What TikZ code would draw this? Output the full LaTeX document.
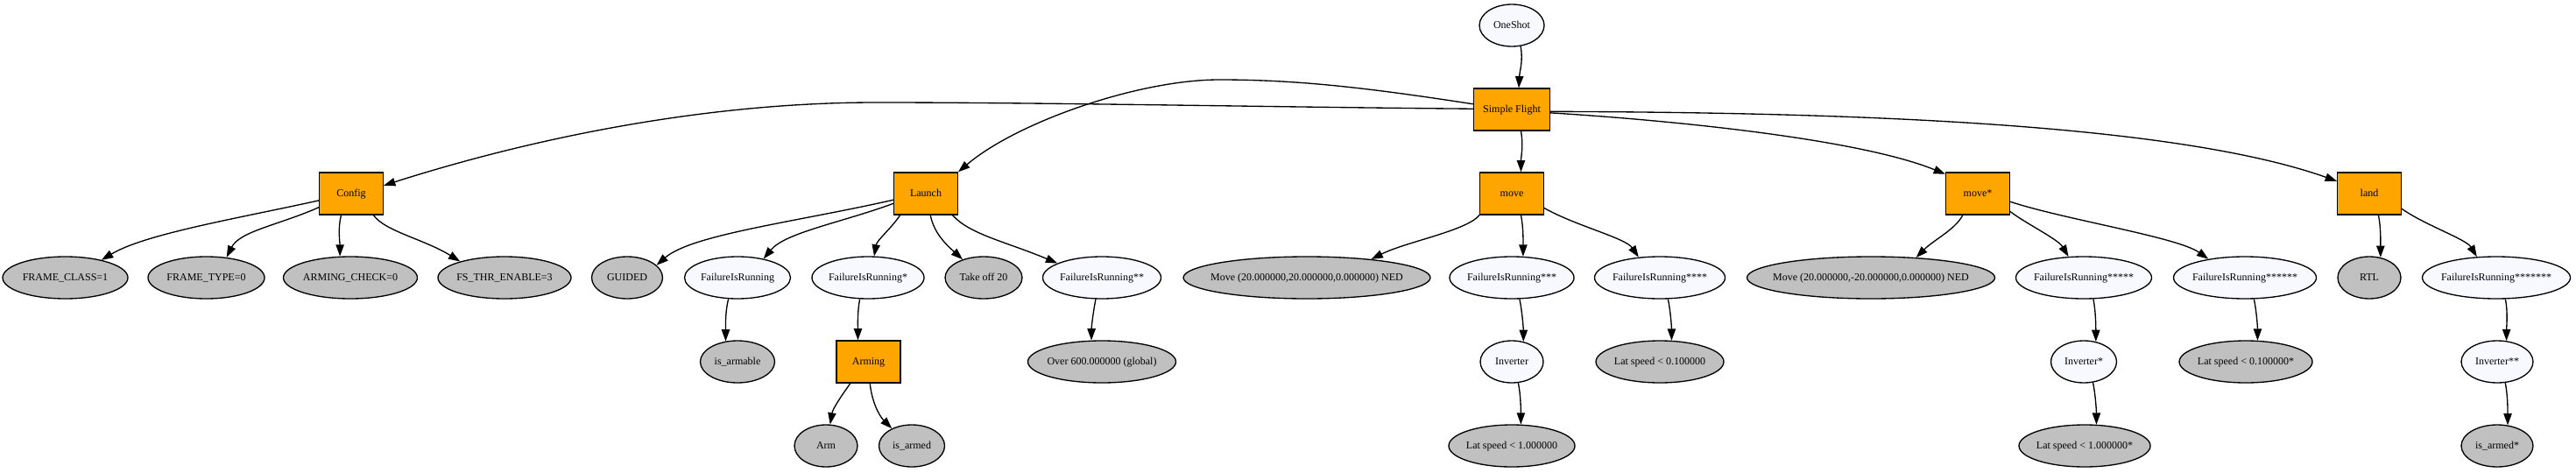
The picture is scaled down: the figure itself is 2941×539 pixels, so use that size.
\documentclass[tikz,border=0pt]{standalone}
\usepackage{fontspec}
\setmainfont{Liberation Serif}
\usetikzlibrary{shapes.geometric,arrows.meta}
\definecolor{gvorange}{HTML}{FFA500}
\definecolor{gvgray}{HTML}{C0C0C0}
\definecolor{gvwhite}{HTML}{F8F8FF}
\newcommand{\ztext}[1]{\makebox[0pt]{#1}}
\begin{document}
\begin{tikzpicture}[x=0.75pt,y=-0.75pt,
  base/.style={draw=black, line width=1pt, font=\fontsize{9pt}{11pt}\selectfont,
    text height=6.5pt, text depth=1.8pt, inner sep=0pt, minimum height=36pt},
  task/.style={base, rectangle, fill=gvorange, minimum width=54.5pt},
  cond/.style={base, ellipse, fill=gvwhite},
  act/.style={base, ellipse, fill=gvgray},
  edge/.style={draw=black, line width=1pt, -{Triangle[length=10pt,width=7pt]}}]
\useasboundingbox (0,0) rectangle (2941,539);
% row 0 / 1
\node[cond, minimum width=55.5pt] (OneShot) at (1726,29) {\ztext{OneShot}};
\node[task, minimum width=65.25pt] (SF) at (1726,125) {Simple Flight};
% row 2
\node[task] (Config) at (401,221) {Config};
\node[task] (Launch) at (1057,221) {Launch};
\node[task] (move) at (1726,221) {move};
\node[task] (moveA) at (2258,221) {move*};
\node[task] (land) at (2705,221) {land};
% row 3
\node[act, minimum width=107.25pt] (FC) at (74.5,317) {\ztext{FRAME\_CLASS=1}};
\node[act, minimum width=99.75pt] (FT) at (235.5,317) {\ztext{FRAME\_TYPE=0}};
\node[act, minimum width=114.75pt] (AC) at (400,317) {\ztext{ARMING\_CHECK=0}};
\node[act, minimum width=114pt] (FS) at (576,317) {\ztext{FS\_THR\_ENABLE=3}};
\node[act, minimum width=60.75pt] (GUIDED) at (716,317) {\ztext{GUIDED}};
\node[cond, minimum width=90.75pt] (F0) at (842,317) {\ztext{FailureIsRunning}};
\node[cond, minimum width=96pt] (F1) at (991,317) {\ztext{FailureIsRunning*}};
\node[act, minimum width=66pt] (TO) at (1123,317) {\ztext{Take off 20}};
\node[cond, minimum width=101.25pt] (F2) at (1258,317) {\ztext{FailureIsRunning**}};
\node[act, minimum width=211.5pt] (M1) at (1492,317) {\ztext{Move (20.000000,20.000000,0.000000) NED}};
\node[cond, minimum width=106.5pt] (F3) at (1726,317) {\ztext{FailureIsRunning***}};
\node[cond, minimum width=111.75pt] (F4) at (1895,317) {\ztext{FailureIsRunning****}};
\node[act, minimum width=212.25pt] (M2) at (2136,317) {\ztext{Move (20.000000,-20.000000,0.000000) NED}};
\node[cond, minimum width=116.25pt] (F5) at (2379,317) {\ztext{FailureIsRunning*****}};
\node[cond, minimum width=122.25pt] (F6) at (2563,317) {\ztext{FailureIsRunning******}};
\node[act, minimum width=54pt] (RTL) at (2705,317) {\ztext{RTL}};
\node[cond, minimum width=126.75pt] (F7) at (2850,317) {\ztext{FailureIsRunning*******}};
% row 4
\node[act, minimum width=63.75pt] (isa) at (842,413) {\ztext{is\_armable}};
\node[task, minimum width=54.75pt] (Arming) at (991.5,413) {Arming};
\node[act, minimum width=126.75pt] (Over) at (1258,413) {\ztext{Over 600.000000 (global)}};
\node[cond, minimum width=54pt] (Inv) at (1726,413) {\ztext{Inverter}};
\node[act, minimum width=109.5pt] (LatB) at (1895,413) {\ztext{Lat speed < 0.100000}};
\node[cond, minimum width=56.25pt] (InvA) at (2379,413) {\ztext{Inverter*}};
\node[act, minimum width=114pt] (LatD) at (2564,413) {\ztext{Lat speed < 0.100000*}};
\node[cond, minimum width=61.5pt] (InvB) at (2851,413) {\ztext{Inverter**}};
% row 5
\node[act, minimum width=54pt] (Arm) at (943,509) {\ztext{Arm}};
\node[act, minimum width=56.25pt] (ia) at (1041,509) {\ztext{is\_armed}};
\node[act, minimum width=108pt] (LatA) at (1726,509) {\ztext{Lat speed < 1.000000}};
\node[act, minimum width=112.5pt] (LatC) at (2380,509) {\ztext{Lat speed < 1.000000*}};
\node[act, minimum width=61.5pt] (iaB) at (2851,509) {\ztext{is\_armed*}};
% waypoints
\coordinate (w1) at (1000,117);
\coordinate (w2) at (1392,91);
% edges
\draw[edge] (OneShot.293) .. controls +(3,18) and +(1,-20) .. (SF.72);
\draw[edge] (SF.293) .. controls +(3,18) and +(0,-18) .. (move.67);
\draw[edge] (SF.179) .. controls +(-233,-2) and +(200,0) .. (w1) .. controls +(-200,0) and +(163,-52) .. (Config.14);
\draw[edge] (SF.172) .. controls +(-123,-19) and +(88,0) .. (w2) .. controls +(-92,0) and +(67,-57) .. (Launch.north east);
\draw[edge] (SF.355) .. controls +(131,8) and +(-101,-41) .. (moveA.149);
\draw[edge] (SF.357) .. controls +(331,1) and +(-189,-67) .. (land.159);
\draw[edge] (Config.192) .. controls +(-90,20) and +(50,-30) .. (FC.26);
\draw[edge] (Config.203) .. controls +(-45,20) and +(15,-30) .. (FT.45);
\draw[edge] (Config.245) .. controls +(-4,15) and +(0,-15) .. (AC.116);
\draw[edge] (Config.316) .. controls +(12,18) and +(-40,-25) .. (FS.160);
\draw[edge] (Launch.191) .. controls +(-110,25) and +(40,-35) .. (GUIDED.23);
\draw[edge] (Launch.197) .. controls +(-60,22) and +(25,-30) .. (F0.36);
\draw[edge] (Launch.220) .. controls +(-10,15) and +(3,-18) .. (F1.74);
\draw[edge] (Launch.282) .. controls +(4,20) and +(-20,-18) .. (TO.139);
\draw[edge] (Launch.321) .. controls +(20,22) and +(-60,-25) .. (F2.162);
\draw[edge] (F0.247) .. controls +(-4,15) and +(0,-15) .. (isa.120);
\draw[edge] (F1.249) .. controls +(-3,15) and +(0,-15) .. (Arming.116);
\draw[edge] (Arming.230) .. controls +(-10,14) and +(3,-18) .. (Arm.79);
\draw[edge] (Arming.274) .. controls +(2,20) and +(-15,-15) .. (ia.139);
\draw[edge] (F2.254) .. controls +(-3,15) and +(0,-15) .. (Over.116);
\draw[edge] (move.south west) .. controls +(-15,18) and +(40,-20) .. (M1.16);
\draw[edge] (move.293) .. controls +(3,15) and +(0,-15) .. (F3.62);
\draw[edge] (move.336) .. controls +(35,20) and +(-15,-22) .. (F4.136);
\draw[edge] (F3.290) .. controls +(3,15) and +(0,-15) .. (Inv.60);
\draw[edge] (Inv.287) .. controls +(3,15) and +(0,-15) .. (LatA.67);
\draw[edge] (F4.291) .. controls +(3,15) and +(0,-15) .. (LatB.61);
\draw[edge] (moveA.235) .. controls +(-8,16) and +(20,-20) .. (M2.24);
\draw[edge] (moveA.331) .. controls +(20,15) and +(-12,-20) .. (F5.126);
\draw[edge] (moveA.346) .. controls +(60,20) and +(-35,-25) .. (F6.153);
\draw[edge] (land.293) .. controls +(3,15) and +(0,-15) .. (RTL.61);
\draw[edge] (land.335) .. controls +(25,18) and +(-12,-20) .. (F7.133);
\draw[edge] (F5.294) .. controls +(3,15) and +(0,-15) .. (InvA.59);
\draw[edge] (InvA.294) .. controls +(3,15) and +(0,-15) .. (LatC.61);
\draw[edge] (F6.293) .. controls +(3,15) and +(0,-15) .. (LatD.61);
\draw[edge] (F7.293) .. controls +(3,15) and +(0,-15) .. (InvB.66);
\draw[edge] (InvB.291) .. controls +(3,15) and +(0,-15) .. (iaB.63);
\end{tikzpicture}
\end{document}
